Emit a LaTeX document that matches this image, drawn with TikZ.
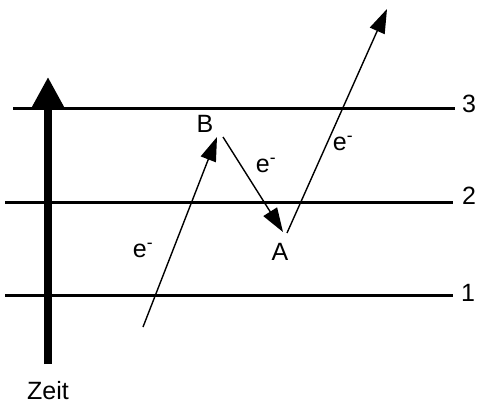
\documentclass[tikz,border=0pt]{standalone}
\usepackage{fontspec}
\setmainfont{Liberation Sans}
\usetikzlibrary{arrows.meta}
\begin{document}
\begin{tikzpicture}[x=1pt,y=-1pt,
  level/.style={line width=3pt},
  lbl/.style={font=\fontsize{25}{28}\selectfont, inner sep=0pt},
  elec/.style={line width=1.4pt, -{Triangle[length=24pt,width=16pt]}},
  timeax/.style={line width=7.5pt, -{Triangle[length=31pt,width=31pt]}}]
\useasboundingbox (0,0) rectangle (480,404);
% energy levels
\coordinate (l3a) at (13,109);  \coordinate (l3b) at (455,109);
\coordinate (l2a) at (5,202);   \coordinate (l2b) at (453,202);
\coordinate (l1a) at (5,295);   \coordinate (l1b) at (453,295);
\draw[level] (l3a) -- (l3b);
\draw[level] (l2a) -- (l2b);
\draw[level] (l1a) -- (l1b);
\node[lbl] (n3) at (469,104) {3};
\node[lbl] (n2) at (469,196) {2};
\node[lbl] (n1) at (468,293) {1};
% time axis
\coordinate (t0) at (48,364);
\coordinate (t1) at (48,77);
\draw[timeax] (t0) -- (t1);
\node[lbl] (zeit) at (48,391) {Zeit};
% electron paths
\coordinate (p0) at (143,327);
\coordinate (p1) at (217,137);
\coordinate (q0) at (223,137);
\coordinate (q1) at (283,232);
\coordinate (r0) at (287,233);
\coordinate (r1) at (387,9);
\draw[elec] (p0) -- (p1);
\draw[elec] (q0) -- (q1);
\draw[elec] (r0) -- (r1);
\node[lbl] (B) at (205,124) {B};
\node[lbl] (A) at (280,252) {A};
\node[lbl] (e1) at (143,250) {e\textsuperscript{-}};
\node[lbl] (e2) at (266,165) {e\textsuperscript{-}};
\node[lbl] (e3) at (343,143) {e\textsuperscript{-}};
\end{tikzpicture}
\end{document}
